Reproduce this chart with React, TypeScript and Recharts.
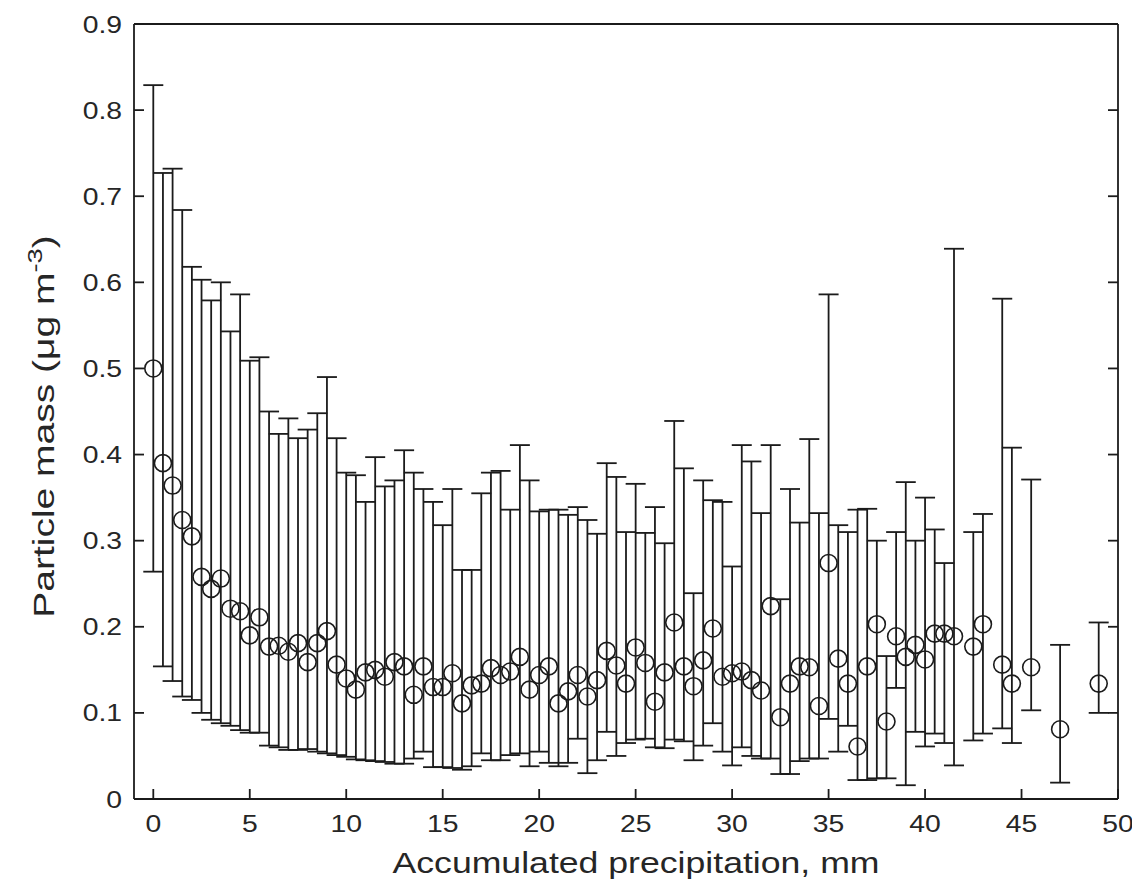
import { ScatterChart, Scatter, XAxis, YAxis, ErrorBar } from 'recharts';

// accumulated precipitation bins (mm)
const precipitation = [
  0, 0.5, 1, 1.5, 2, 2.5, 3, 3.5, 4, 4.5, 5, 5.5, 6, 6.5, 7, 7.5, 8, 8.5, 9, 9.5,
  10, 10.5, 11, 11.5, 12, 12.5, 13, 13.5, 14, 14.5, 15, 15.5, 16, 16.5, 17, 17.5, 18, 18.5, 19, 19.5,
  20, 20.5, 21, 21.5, 22, 22.5, 23, 23.5, 24, 24.5, 25, 25.5, 26, 26.5, 27, 27.5, 28, 28.5, 29, 29.5,
  30, 30.5, 31, 31.5, 32, 32.5, 33, 33.5, 34, 34.5, 35, 35.5, 36, 36.5, 37, 37.5, 38, 38.5, 39, 39.5,
  40, 40.5, 41, 41.5, 42.5, 43, 44, 44.5, 45.5, 47, 49,
];

const meanMass = [
  0.5, 0.39, 0.364, 0.324, 0.305, 0.258, 0.244, 0.256, 0.221, 0.218, 0.19, 0.211, 0.177, 0.178, 0.171, 0.181, 0.159, 0.181, 0.195, 0.156,
  0.14, 0.127, 0.147, 0.15, 0.142, 0.159, 0.154, 0.121, 0.154, 0.13, 0.13, 0.146, 0.111, 0.132, 0.134, 0.152, 0.144, 0.148, 0.165, 0.127,
  0.144, 0.154, 0.111, 0.125, 0.144, 0.119, 0.138, 0.172, 0.155, 0.134, 0.176, 0.158, 0.113, 0.147, 0.205, 0.154, 0.131, 0.161, 0.198, 0.142,
  0.146, 0.148, 0.138, 0.126, 0.224, 0.095, 0.134, 0.154, 0.153, 0.108, 0.274, 0.163, 0.134, 0.061, 0.154, 0.203, 0.09, 0.189, 0.165, 0.179,
  0.162, 0.192, 0.192, 0.189, 0.177, 0.203, 0.156, 0.134, 0.153, 0.081, 0.134,
];

const lowerMass = [
  0.264, 0.154, 0.137, 0.119, 0.115, 0.1, 0.092, 0.088, 0.085, 0.08, 0.077, 0.077, 0.062, 0.06, 0.057, 0.057, 0.058, 0.055, 0.053, 0.051,
  0.049, 0.046, 0.045, 0.044, 0.043, 0.041, 0.041, 0.047, 0.055, 0.037, 0.037, 0.036, 0.034, 0.038, 0.053, 0.045, 0.045, 0.051, 0.053, 0.038,
  0.055, 0.042, 0.038, 0.042, 0.07, 0.03, 0.045, 0.078, 0.05, 0.065, 0.069, 0.07, 0.06, 0.059, 0.069, 0.067, 0.045, 0.062, 0.088, 0.055,
  0.039, 0.06, 0.05, 0.047, 0.047, 0.029, 0.029, 0.044, 0.047, 0.047, 0.093, 0.055, 0.085, 0.022, 0.022, 0.024, 0.024, 0.129, 0.016, 0.078,
  0.061, 0.076, 0.065, 0.039, 0.068, 0.076, 0.082, 0.065, 0.103, 0.019, 0.1,
];

const upperMass = [
  0.829, 0.727, 0.732, 0.684, 0.618, 0.603, 0.579, 0.6, 0.543, 0.586, 0.509, 0.513, 0.45, 0.424, 0.442, 0.419, 0.429, 0.448, 0.49, 0.419,
  0.379, 0.376, 0.345, 0.397, 0.363, 0.37, 0.405, 0.379, 0.36, 0.345, 0.318, 0.36, 0.266, 0.266, 0.355, 0.379, 0.381, 0.336, 0.411, 0.37,
  0.334, 0.336, 0.336, 0.33, 0.339, 0.324, 0.308, 0.39, 0.374, 0.31, 0.366, 0.309, 0.339, 0.297, 0.439, 0.384, 0.239, 0.37, 0.347, 0.345,
  0.27, 0.411, 0.392, 0.332, 0.411, 0.232, 0.36, 0.321, 0.418, 0.332, 0.586, 0.318, 0.31, 0.336, 0.337, 0.3, 0.166, 0.31, 0.368, 0.3,
  0.35, 0.313, 0.274, 0.639, 0.31, 0.331, 0.581, 0.408, 0.371, 0.179, 0.205,
];

const xTicks = [0, 5, 10, 15, 20, 25, 30, 35, 40, 45, 50];
const yTicks = [0, 0.1, 0.2, 0.3, 0.4, 0.5, 0.6, 0.7, 0.8, 0.9];

const data = precipitation.map((x, i) => ({
  x,
  y: meanMass[i],
  err: [meanMass[i] - lowerMass[i], upperMass[i] - meanMass[i]],
}));

const INK = '#1b1b1b';
const FONT = '"Liberation Sans", Arial, Helvetica, sans-serif';
const TICK_LEN = 10;
const axisLine = { stroke: INK, strokeWidth: 1.8 };

const BottomTick = ({ x, y, payload }: any) => (
  <g>
    <line x1={x} y1={y} x2={x} y2={y - TICK_LEN} stroke={INK} strokeWidth={1.8} />
    <text
      transform={`translate(${x},${y + 33}) scale(1.18,1)`}
      textAnchor="middle"
      fontSize={24}
      fontFamily={FONT}
      fill="#262626"
    >
      {payload.value}
    </text>
  </g>
);

const TopTick = ({ x, y }: any) => (
  <line x1={x} y1={y} x2={x} y2={y + TICK_LEN} stroke={INK} strokeWidth={1.8} />
);

const LeftTick = ({ x, y, payload }: any) => (
  <g>
    <line x1={x} y1={y} x2={x + TICK_LEN} y2={y} stroke={INK} strokeWidth={1.8} />
    <text
      transform={`translate(${x - 12},${y + 8.5}) scale(1.18,1)`}
      textAnchor="end"
      fontSize={24}
      fontFamily={FONT}
      fill="#262626"
    >
      {payload.value}
    </text>
  </g>
);

const RightTick = ({ x, y }: any) => (
  <line x1={x} y1={y} x2={x - TICK_LEN} y2={y} stroke={INK} strokeWidth={1.8} />
);

const XTitle = ({ viewBox }: any) => (
  <text
    x={viewBox.x + viewBox.width / 2 + 10}
    y={viewBox.y + 74}
    textAnchor="middle"
    fontSize={30}
    fontFamily={FONT}
    fill="#262626"
    textLength={487}
    lengthAdjust="spacingAndGlyphs"
  >
    Accumulated precipitation, mm
  </text>
);

const YTitle = ({ viewBox }: any) => {
  const cx = viewBox.x - 10;
  const cy = viewBox.y + viewBox.height / 2 + 15;
  return (
    <text
      transform={`translate(${cx},${cy}) rotate(-90) scale(1.3,1)`}
      textAnchor="middle"
      fontSize={30}
      fontFamily={FONT}
      fill="#262626"
    >
      Particle mass (μg m
      <tspan dy={-12} fontSize={21}>-3</tspan>
      <tspan dy={12}>)</tspan>
    </text>
  );
};

const Marker = ({ cx, cy }: any) => (
  <circle cx={cx} cy={cy} r={8.5} fill="none" stroke={INK} strokeWidth={1.6} />
);

export default function App() {
  return (
    <div style={{ width: 1132, height: 880, background: '#fff' }}>
      <ScatterChart width={1132} height={880} margin={{ top: 14, right: 20, bottom: 9, left: 56 }}>
        <XAxis
          dataKey="x"
          type="number"
          domain={[-1, 50]}
          allowDataOverflow
          ticks={xTicks}
          interval={0}
          height={80}
          tickSize={0}
          tickMargin={0}
          tickLine={false}
          axisLine={axisLine}
          tick={<BottomTick />}
          label={<XTitle />}
        />
        <XAxis
          xAxisId="top"
          orientation="top"
          type="number"
          domain={[-1, 50]}
          allowDataOverflow
          ticks={xTicks}
          interval={0}
          height={2}
          tickSize={0}
          tickMargin={0}
          tickLine={false}
          axisLine={axisLine}
          tick={<TopTick />}
        />
        <YAxis
          dataKey="y"
          type="number"
          domain={[0, 0.9]}
          allowDataOverflow
          ticks={yTicks}
          interval={0}
          width={70}
          tickSize={0}
          tickMargin={0}
          tickLine={false}
          axisLine={axisLine}
          tick={<LeftTick />}
          label={<YTitle />}
        />
        <YAxis
          yAxisId="right"
          orientation="right"
          type="number"
          domain={[0, 0.9]}
          allowDataOverflow
          ticks={yTicks}
          interval={0}
          width={2}
          tickSize={0}
          tickMargin={0}
          tickLine={false}
          axisLine={axisLine}
          tick={<RightTick />}
        />
        <Scatter data={data} shape={<Marker />} isAnimationActive={false}>
          <ErrorBar dataKey="err" direction="y" width={10} stroke={INK} strokeWidth={1.8} />
        </Scatter>
      </ScatterChart>
    </div>
  );
}
